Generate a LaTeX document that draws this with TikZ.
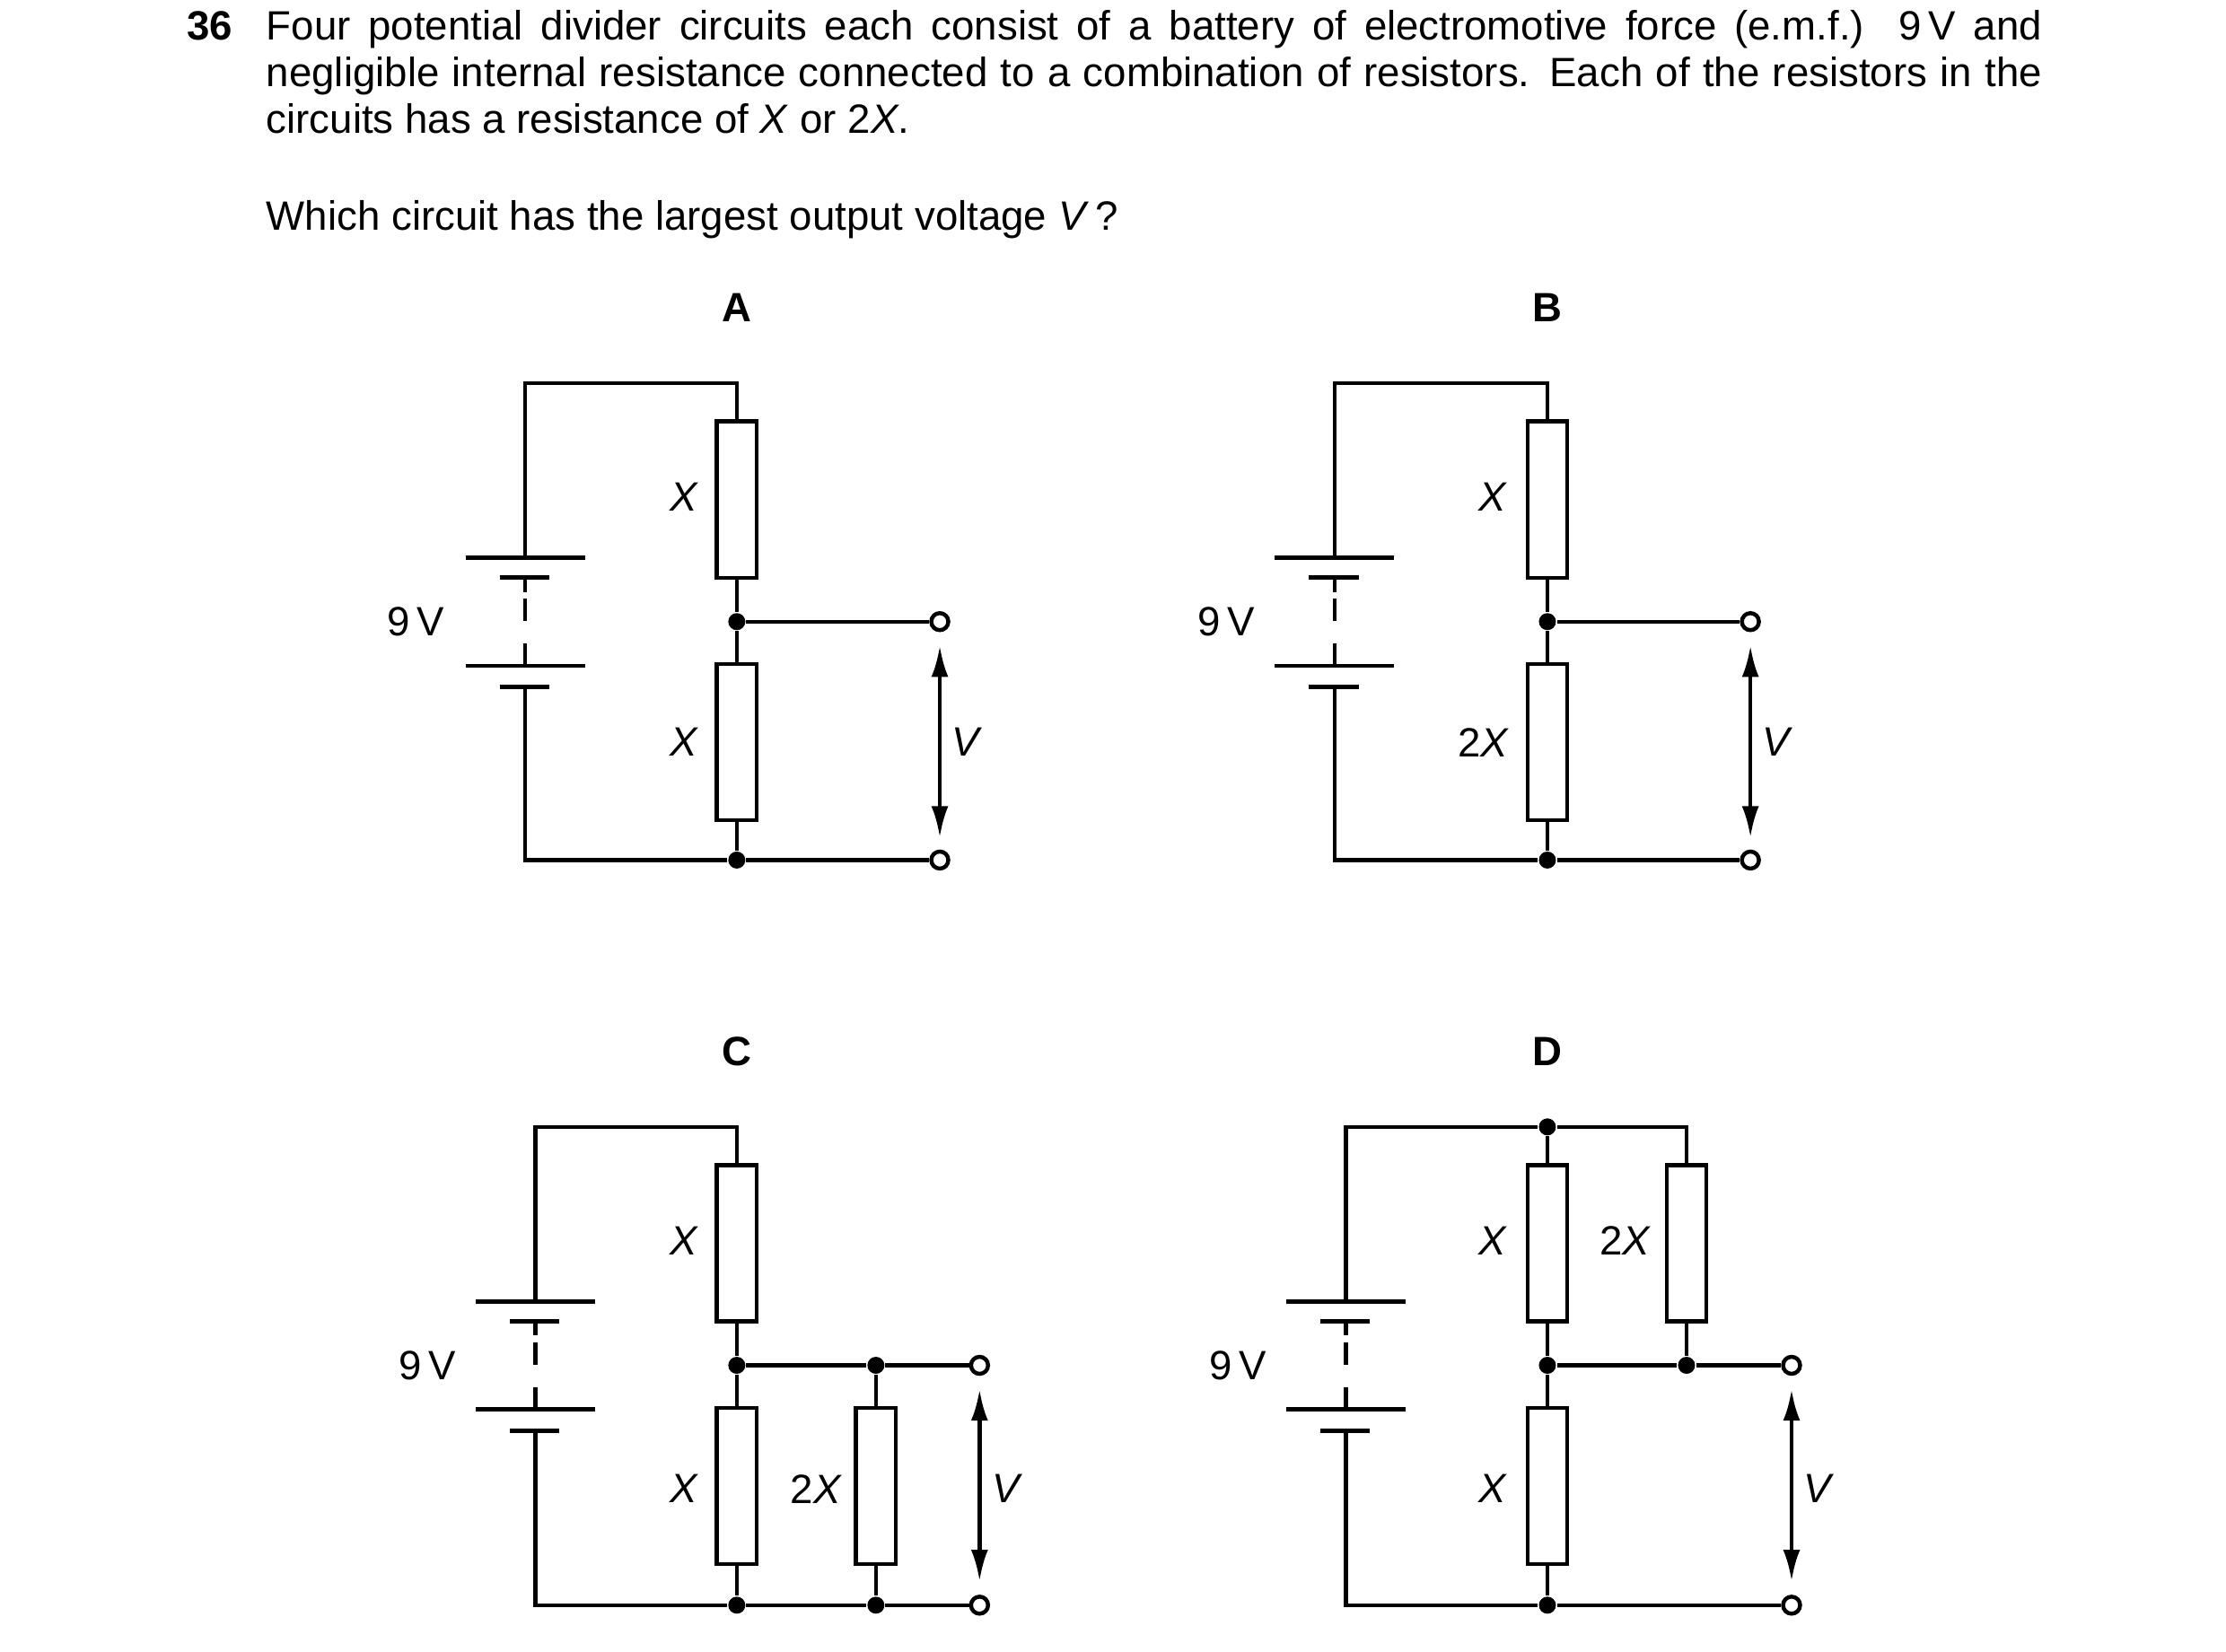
\documentclass[tikz,border=0pt]{standalone}
\usepackage{fontspec}
\setmainfont{Liberation Sans}
\usetikzlibrary{arrows.meta}
\newcommand\mybat[2]{%
 \draw[wire] (#1-42,#2)--(#1+42,#2);
 \draw[wire] (#1-18,#2+14)--(#1+17,#2+14);
 \draw[wire] (#1,#2+14)--(#1,#2+24);
 \draw[wire,dash pattern=on 4.5pt off 4.5pt] (#1,#2+29)--(#1,#2+70);
 \draw[wire] (#1,#2+66)--(#1,#2+76);
 \draw[wire] (#1-42,#2+76)--(#1+42,#2+76);
 \draw[wire] (#1-18,#2+91)--(#1+17,#2+91);}
\begin{document}
\begin{tikzpicture}[x=0.01cm,y=-0.01cm,
 wire/.style={line width=0.8pt,line cap=butt},
 res/.style={draw,line width=0.8pt,rectangle,minimum width=0.28cm,minimum height=1.1cm,inner sep=0pt},
 dot/.style={circle,fill=black,inner sep=0pt,minimum size=0.12cm},
 term/.style={circle,draw,fill=white,line width=0.8pt,inner sep=0pt,minimum size=0.12cm},
 lab/.style={font=\fontsize{8.2}{10}\selectfont,inner sep=0pt},
 varr/.style={line width=0.8pt,{Latex[length=0.22cm,width=0.12cm]}-{Latex[length=0.22cm,width=0.12cm]}}]
\useasboundingbox (0,0) rectangle (1568,1164);
% header text
\node[lab,anchor=base west,font=\fontsize{8.2}{10}\selectfont\bfseries] at (131,28) {36};
\node[lab,anchor=base west] at (187,28) {\makebox[12.5cm][s]{Four potential divider circuits each consist of a battery of electromotive force (e.m.f.) 9\,V and}};
\node[lab,anchor=base west] at (187,61) {\makebox[12.5cm][s]{negligible internal resistance connected to a combination of resistors. Each of the resistors in the}};
\node[lab,anchor=base west] at (187,94) {circuits has a resistance of \textit{X} or 2\textit{X}.};
\node[lab,anchor=base west] at (187,162) {Which circuit has the largest output voltage \textit{V}\,?};
% ---------------- A
\node[lab,font=\fontsize{8.2}{10}\selectfont\bfseries] (LA) at (519,217) {A};
\node[res] (A1) at (519,352) {};
\node[res] (A2) at (519,523) {};
\node[dot] (AJ) at (519,438) {};
\node[dot] (AB) at (519,606) {};
\node[term] (AT1) at (662,438) {};
\node[term] (AT2) at (662,606) {};
\coordinate (Atl) at (370,270); \coordinate (Atr) at (519,270); \coordinate (Abl) at (370,606);
\draw[wire] (370,393)--(Atl)--(Atr)--(A1.north);
\draw[wire] (A1.south)--(AJ)--(A2.north);
\draw[wire] (A2.south)--(AB)--(Abl)--(370,484);
\draw[wire] (AJ)--(AT1); \draw[wire] (AB)--(AT2);
\mybat{370}{393}
\coordinate (Aa1) at (662,455); \coordinate (Aa2) at (662,590);
\draw[varr] (Aa1)--(Aa2);
\node[lab] at (482,350) {\textit{X}};
\node[lab] at (482,523) {\textit{X}};
\node[lab] at (681,523) {\textit{V}};
\node[lab] at (293,438) {9\,V};
% ---------------- B
\node[lab,font=\fontsize{8.2}{10}\selectfont\bfseries] (LB) at (1090,217) {B};
\node[res] (B1) at (1090,352) {};
\node[res] (B2) at (1090,523) {};
\node[dot] (BJ) at (1090,438) {};
\node[dot] (BB) at (1090,606) {};
\node[term] (BT1) at (1233,438) {};
\node[term] (BT2) at (1233,606) {};
\coordinate (Btl) at (940,270); \coordinate (Btr) at (1090,270); \coordinate (Bbl) at (940,606);
\draw[wire] (940,393)--(Btl)--(Btr)--(B1.north);
\draw[wire] (B1.south)--(BJ)--(B2.north);
\draw[wire] (B2.south)--(BB)--(Bbl)--(940,484);
\draw[wire] (BJ)--(BT1); \draw[wire] (BB)--(BT2);
\mybat{940}{393}
\coordinate (Ba1) at (1233,455); \coordinate (Ba2) at (1233,590);
\draw[varr] (Ba1)--(Ba2);
\node[lab] at (1052,350) {\textit{X}};
\node[lab] at (1045,523) {2\textit{X}};
\node[lab] at (1252,523) {\textit{V}};
\node[lab] at (864,438) {9\,V};
% ---------------- C
\node[lab,font=\fontsize{8.2}{10}\selectfont\bfseries] (LC) at (519,741) {C};
\node[res] (C1) at (519,876) {};
\node[res] (C2) at (519,1047) {};
\node[res] (C3) at (617,1047) {};
\node[dot] (CJ) at (519,962) {};
\node[dot] (CB) at (519,1131) {};
\node[dot] (CJ2) at (617,962) {};
\node[dot] (CB2) at (617,1131) {};
\node[term] (CT1) at (690,962) {};
\node[term] (CT2) at (690,1131) {};
\coordinate (Ctl) at (377,794); \coordinate (Ctr) at (519,794); \coordinate (Cbl) at (377,1131);
\draw[wire] (377,917)--(Ctl)--(Ctr)--(C1.north);
\draw[wire] (C1.south)--(CJ)--(C2.north);
\draw[wire] (C2.south)--(CB)--(Cbl)--(377,1008);
\draw[wire] (CJ)--(CJ2)--(CT1); \draw[wire] (CB)--(CB2)--(CT2);
\draw[wire] (CJ2)--(C3.north); \draw[wire] (C3.south)--(CB2);
\mybat{377}{917}
\coordinate (Ca1) at (690,979); \coordinate (Ca2) at (690,1114);
\draw[varr] (Ca1)--(Ca2);
\node[lab] at (482,874) {\textit{X}};
\node[lab] at (482,1049) {\textit{X}};
\node[lab] at (575,1049) {2\textit{X}};
\node[lab] at (710,1049) {\textit{V}};
\node[lab] at (301,962) {9\,V};
% ---------------- D
\node[lab,font=\fontsize{8.2}{10}\selectfont\bfseries] (LD) at (1090,741) {D};
\node[res] (D1) at (1090,876) {};
\node[res] (D2) at (1090,1047) {};
\node[res] (D3) at (1188,876) {};
\node[dot] (DT) at (1090,794) {};
\node[dot] (DJ) at (1090,962) {};
\node[dot] (DJ2) at (1188,962) {};
\node[dot] (DB) at (1090,1131) {};
\node[term] (DT1) at (1262,962) {};
\node[term] (DT2) at (1262,1131) {};
\coordinate (Dtl) at (948,794); \coordinate (Dtr) at (1188,794); \coordinate (Dbl) at (948,1131);
\draw[wire] (948,917)--(Dtl)--(DT)--(Dtr)--(D3.north);
\draw[wire] (DT)--(D1.north);
\draw[wire] (D1.south)--(DJ)--(D2.north);
\draw[wire] (D3.south)--(DJ2);
\draw[wire] (D2.south)--(DB)--(Dbl)--(948,1008);
\draw[wire] (DJ)--(DJ2)--(DT1); \draw[wire] (DB)--(DT2);
\mybat{948}{917}
\coordinate (Da1) at (1262,979); \coordinate (Da2) at (1262,1114);
\draw[varr] (Da1)--(Da2);
\node[lab] at (1052,874) {\textit{X}};
\node[lab] at (1145,874) {2\textit{X}};
\node[lab] at (1052,1049) {\textit{X}};
\node[lab] at (1281,1049) {\textit{V}};
\node[lab] at (872,962) {9\,V};
\end{tikzpicture}
\end{document}
